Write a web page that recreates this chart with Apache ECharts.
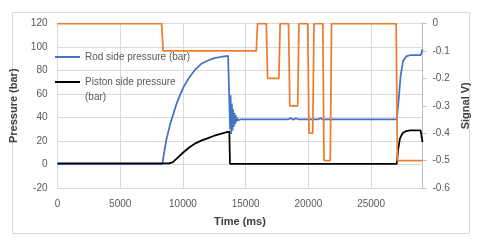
<!DOCTYPE html>
<html>
<head>
<meta charset="utf-8">
<script src="https://cdn.jsdelivr.net/npm/echarts@6/dist/echarts.min.js"></script>
<style>html,body{margin:0;padding:0;background:#fff}#c{width:480px;height:246px}</style>
</head>
<body>
<div id="c"></div>
<script>
// ---- data ----
const rodName = 'Rod side pressure (bar)';
const pistonName = 'Piston side pressure (bar)';
const signalName = 'Signal V)';

const rodTime = [0, 8350, 8500, 8700, 9000, 9500, 10000, 10500, 11000, 11500, 12000, 12500, 13000, 13600, 13700,
  13760, 13800, 13850, 13900, 13950, 14000, 14050, 14100, 14150, 14200, 14250, 14300, 14400, 14500, 14600,
  18400, 18600, 18800, 19000, 19200, 20800, 21000, 21200, 21400, 27050,
  27200, 27350, 27550, 27800, 28100, 28950, 29100];
const rodValues = [0.3, 0.3, 10, 22, 35, 52, 65, 74, 81, 86, 88.5, 90.5, 91.5, 92.5, 92,
  30, 59, 26, 52, 29, 47, 32, 44, 34, 42, 36, 40, 37.5, 39, 38.5,
  38.5, 39.5, 38, 39.3, 38.5, 38.5, 39.5, 37.8, 38.5, 38.5,
  55, 75, 88, 92, 93, 93, 98];

const pistonTime = [0, 8900, 9000, 9200, 9500, 10000, 10500, 11000, 11500, 12000, 12500, 13000, 13500, 13700, 13750,
  27050, 27150, 27300, 27500, 27800, 28100, 28950, 29100];
const pistonValues = [1, 1, 0.5, 2, 5, 10, 14.5, 18, 20.5, 22.5, 24.5, 26, 27.5, 28, 0.5,
  0.5, 12, 22, 26.5, 28.5, 29, 29, 19];

const signalTime = [0, 8300, 8420, 15850, 15950, 16650, 16750, 17650, 17750, 18420, 18520, 19150, 19250,
  19950, 20050, 20350, 20450, 21150, 21250, 21750, 21850, 27000, 27100, 29100];
const signalValues = [0, 0, -0.1, -0.1, 0, 0, -0.2, -0.2, 0, 0, -0.3, -0.3, 0,
  0, -0.4, -0.4, 0, 0, -0.5, -0.5, 0, 0, -0.5, -0.5];

const xTicks = [0, 5000, 10000, 15000, 20000, 25000];
const leftTicks = [-20, 0, 20, 40, 60, 80, 100, 120];
const rightTicks = [-0.6, -0.5, -0.4, -0.3, -0.2, -0.1, 0];

// ---- chart ----
const zip = (t, v) => t.map((x, i) => [x, v[i]]);
const font = 'Liberation Sans, Arial, sans-serif';
const chart = echarts.init(document.getElementById('c'), null, {renderer: 'canvas'});
chart.setOption({
  animation: false,
  backgroundColor: '#fff',
  textStyle: {fontFamily: font},
  graphic: [{
    type: 'rect', shape: {x: 12.5, y: 12.5, width: 457, height: 221},
    style: {fill: 'none', stroke: '#d9d9d9', lineWidth: 1}, silent: true
  }],
  grid: {left: 57.5, right: 57.5, top: 23.5, bottom: 58},
  legend: [{
    data: [rodName], orient: 'vertical', left: 55, top: 49.5, padding: 0,
    icon: 'rect', itemWidth: 25, itemHeight: 2, itemGap: 5,
    textStyle: {color: '#595959', fontSize: 10, fontFamily: font, lineHeight: 15}
  }, {
    data: [pistonName], orient: 'vertical', left: 55, top: 59.5, padding: 0,
    icon: 'rect', itemWidth: 25, itemHeight: 2, itemGap: 5,
    formatter: () => ' \nPiston side pressure\n(bar)',
    textStyle: {color: '#595959', fontSize: 10, fontFamily: font, lineHeight: 15}
  }],
  xAxis: {
    type: 'value', min: xTicks[0], max: 29100, interval: xTicks[1] - xTicks[0],
    name: 'Time (ms)', nameLocation: 'middle', nameGap: 28,
    nameTextStyle: {fontWeight: 'bold', fontSize: 11, color: '#404040', fontFamily: font},
    axisLine: {show: false},
    axisTick: {show: false},
    axisLabel: {color: '#595959', fontSize: 10, margin: 11, showMaxLabel: false, fontFamily: font,
      formatter: v => String(v)},
    splitLine: {show: true, lineStyle: {color: '#d9d9d9', width: 1}}
  },
  yAxis: [{
    type: 'value', min: leftTicks[0], max: leftTicks[leftTicks.length - 1], interval: leftTicks[1] - leftTicks[0],
    name: 'Pressure (bar)', nameLocation: 'middle', nameGap: 32,
    nameTextStyle: {fontWeight: 'bold', fontSize: 11, color: '#404040', fontFamily: font},
    axisLine: {show: true, lineStyle: {color: '#d9d9d9'}},
    axisTick: {show: false},
    axisLabel: {color: '#595959', fontSize: 10, margin: 10, fontFamily: font},
    splitLine: {show: true, lineStyle: {color: '#d9d9d9', width: 1}}
  }, {
    type: 'value', position: 'right', min: rightTicks[0], max: rightTicks[rightTicks.length - 1],
    interval: 0.1,
    name: signalName, nameLocation: 'middle', nameGap: 34, nameRotate: 90,
    nameTextStyle: {fontWeight: 'bold', fontSize: 11, color: '#404040', fontFamily: font},
    axisLine: {show: true, lineStyle: {color: '#bfbfbf'}},
    axisTick: {show: true, length: 4, lineStyle: {color: '#bfbfbf'}},
    axisLabel: {color: '#595959', fontSize: 10, margin: 10, fontFamily: font,
      formatter: v => (Math.round(v * 10) / 10).toString()},
    splitLine: {show: false}
  }],
  series: [{
    name: rodName, type: 'line', yAxisIndex: 0, data: zip(rodTime, rodValues),
    showSymbol: false, symbol: 'none', lineStyle: {color: '#4472C4', width: 1.75}, itemStyle: {color: '#4472C4'}, z: 2
  }, {
    name: pistonName, type: 'line', yAxisIndex: 0, data: zip(pistonTime, pistonValues),
    showSymbol: false, symbol: 'none', lineStyle: {color: '#000000', width: 1.75}, itemStyle: {color: '#000000'}, z: 3
  }, {
    name: signalName, type: 'line', yAxisIndex: 1, data: zip(signalTime, signalValues),
    showSymbol: false, symbol: 'none', lineStyle: {color: '#ED7D31', width: 1.75}, itemStyle: {color: '#ED7D31'}, z: 4
  }]
});
</script>
</body>
</html>
